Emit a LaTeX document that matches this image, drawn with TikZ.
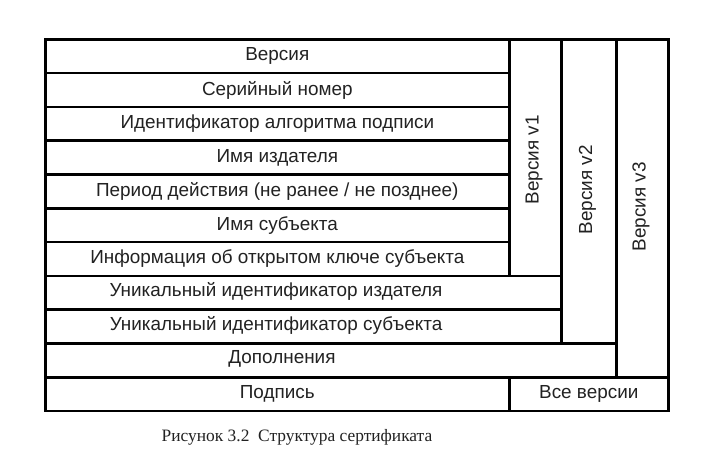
\documentclass[tikz,border=0pt]{standalone}
\usepackage{fontspec}
\setmainfont{Liberation Sans}
\newfontfamily\capfont{Liberation Serif}
\definecolor{txt}{HTML}{222222}
\begin{document}
\begin{tikzpicture}[x=1pt,y=-1pt,
  box/.style={draw=black, line width=2.6pt, minimum width=#1, inner sep=0pt, minimum height=33.8pt, anchor=north west},
  vbox/.style={draw=black, line width=2.6pt, inner sep=0pt, anchor=north west},
  lbl/.style={text=txt, font=\fontsize{18.9}{20}\selectfont, inner sep=0pt},
  vlbl/.style={lbl, rotate=90}]
\useasboundingbox (0,0) rectangle (718,460);
\fill[white] (0,0) rectangle (718,460);
% rows
\node[box=464pt] (r1) at (44,38) {};
\node[box=464pt] (r2) at (44,71.8) {};
\node[box=464pt] (r3) at (44,105.6) {};
\node[box=464pt] (r4) at (44,139.4) {};
\node[box=464pt] (r5) at (44,173.2) {};
\node[box=464pt] (r6) at (44,207.0) {};
\node[box=464pt] (r7) at (44,240.8) {};
\node[box=516pt] (r8) at (44,274.6) {};
\node[box=516pt] (r9) at (44,308.4) {};
\node[box=571pt] (r10) at (44,342.2) {};
\node[box=464pt] (r11) at (44,376.0) {};
\node[box=159pt] (r12) at (508,376.0) {};
% version columns
\node[vbox, minimum width=52pt, minimum height=236.6pt] (v1) at (508,38) {};
\node[vbox, minimum width=55pt, minimum height=304.2pt] (v2) at (560,38) {};
\node[vbox, minimum width=52pt, minimum height=338pt] (v3) at (615,38) {};
% labels
\node[lbl] (t1) at (r1.center) {Версия};
\node[lbl] (t2) at (r2.center) {Серийный номер};
\node[lbl] (t3) at (r3.center) {Идентификатор алгоритма подписи};
\node[lbl] (t4) at (r4.center) {Имя издателя};
\node[lbl] (t5) at (r5.center) {Период действия (не ранее / не позднее)};
\node[lbl] (t6) at (r6.center) {Имя субъекта};
\node[lbl] (t7) at (r7.center) {Информация об открытом ключе субъекта};
\node[lbl] (t8) at (276,291.5) {Уникальный идентификатор издателя};
\node[lbl] (t9) at (276,325.3) {Уникальный идентификатор субъекта};
\node[lbl] (t10) at (282,359.1) {Дополнения};
\node[lbl] (t11) at (r11.center) {Подпись};
\node[lbl] (t12) at (r12.center) {Все версии};
\node[vlbl] (tv1) at (534,160) {Версия v1};
\node[vlbl] (tv2) at (587.5,190) {Версия v2};
\node[vlbl] (tv3) at (641,207) {Версия v3};
\node[text=txt, font=\capfont\fontsize{17.4}{19}\selectfont, inner sep=0pt] (cap) at (297,437) {Рисунок 3.2\enspace Структура сертификата};
\end{tikzpicture}
\end{document}
